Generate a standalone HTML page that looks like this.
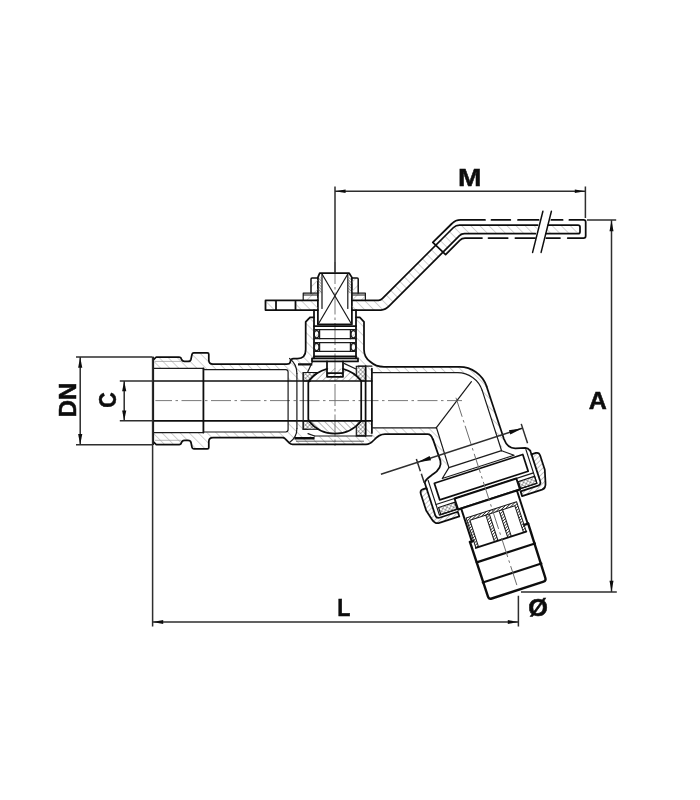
<!DOCTYPE html>
<html><head><meta charset="utf-8"><title>Valve drawing</title>
<style>
html,body{margin:0;padding:0;background:#fff;}
body{width:700px;height:800px;overflow:hidden;font-family:"Liberation Sans",sans-serif;}
svg{display:block;position:absolute;left:0;top:0;}
.o{fill:none;stroke:#111;stroke-width:1.75;stroke-linejoin:round;stroke-linecap:round;}
.ow{fill:#fff;stroke:#111;stroke-width:1.75;stroke-linejoin:round;stroke-linecap:round;}
.m{fill:none;stroke:#1a1a1a;stroke-width:1.2;stroke-linejoin:round;stroke-linecap:round;}
.t{fill:none;stroke:#2a2a2a;stroke-width:0.75;}
.d{fill:none;stroke:#2e2e2e;stroke-width:1.5;}
.cl{fill:none;stroke:#6a6a6a;stroke-width:0.9;stroke-dasharray:20 3.5 2.5 3.5;}
.ar{fill:#111;stroke:none;}
text{font-family:"Liberation Sans",sans-serif;font-weight:bold;fill:#0a0a0a;stroke:#0a0a0a;stroke-width:0.45;}
</style></head><body>
<svg width="700" height="800" viewBox="0 0 700 800">
<defs>
<pattern id="h1" width="6.4" height="6.4" patternUnits="userSpaceOnUse" patternTransform="rotate(45)"><line x1="0" y1="0" x2="0" y2="6.4" stroke="#999" stroke-width="0.9"/></pattern>
<pattern id="h2" width="6.4" height="6.4" patternUnits="userSpaceOnUse" patternTransform="rotate(-45)"><line x1="0" y1="0" x2="0" y2="6.4" stroke="#999" stroke-width="0.9"/></pattern>
<pattern id="hx" width="3" height="3" patternUnits="userSpaceOnUse" patternTransform="rotate(45)"><path d="M0,0V3M0,0H3" stroke="#333" stroke-width="0.8" fill="none"/></pattern>
<pattern id="hd" width="2.3" height="2.3" patternUnits="userSpaceOnUse" patternTransform="rotate(63)"><line x1="0" y1="0" x2="0" y2="2.3" stroke="#1a1a1a" stroke-width="1.45"/></pattern>
<pattern id="hn" width="3.6" height="3.6" patternUnits="userSpaceOnUse" patternTransform="rotate(63)"><line x1="0" y1="0" x2="0" y2="3.6" stroke="#666" stroke-width="0.8"/></pattern>
<pattern id="hb1" width="4.6" height="4.6" patternUnits="userSpaceOnUse" patternTransform="rotate(45)"><line x1="0" y1="0" x2="0" y2="4.6" stroke="#555" stroke-width="0.8"/></pattern>
<pattern id="hb2" width="4.6" height="4.6" patternUnits="userSpaceOnUse" patternTransform="rotate(-45)"><line x1="0" y1="0" x2="0" y2="4.6" stroke="#555" stroke-width="0.8"/></pattern>
<pattern id="hd2" width="2" height="2" patternUnits="userSpaceOnUse" patternTransform="rotate(-45)"><line x1="0" y1="0" x2="0" y2="2" stroke="#333" stroke-width="1"/></pattern>
<filter id="soft" x="0" y="0" width="700" height="800" filterUnits="userSpaceOnUse"><feGaussianBlur stdDeviation="0.32"/></filter>
</defs>
<rect width="700" height="800" fill="#fff"/>
<g filter="url(#soft)">
<!--BODY-->
<g id="body">
<!-- ===== hatch fills (under outlines) ===== -->
<g stroke="none">
<!-- inlet walls -->
<path fill="url(#h2)" d="M153,357.1H181L182.5,361.4H190.5L192,352.9H208.6V364H287V369.7H203.4V368.3H153Z"/>
<path fill="url(#h2)" d="M153,444.6H181L182.5,440.4H190.5L192,448.8H208.6V437.6H287V432H203.4V432.6H153Z"/>
<!-- centre body top-left / bonnet -->
<path fill="url(#h2)" d="M287,364.4Q290.3,364 290.4,361.5Q290.6,358.6 293.5,358.6H297.5Q305.7,358.6 305.7,349.5V321.8L310,317.3H314V358.5H312V362H314L308,372H303V380.6H288V369.7H287Z"/>
<path fill="url(#h2)" d="M356,317.3H359.8L364,321.8V349.5Q364,357 370,361.5Q376,366.9 384,366.9H396V372.7H372V380.6H365.6V366.2H358V358.5H356Z"/>
<!-- bottom -->
<path fill="url(#h2)" d="M283,437.5L290.5,444.4H366Q370,444.4 374,440Q379,434.1 385,434.1H396V427.8H372V421.2H365.6V436H303V421.2H288V432H283Z"/>
<!-- ball segments -->
<path fill="url(#hb1)" d="M309,380.6A33,33 0 0 1 361,380.6Z"/>
<path fill="url(#hb2)" d="M309,421.2A33,33 0 0 0 361,421.2Z"/>
</g>
<!-- seats (crosshatch) -->
<path fill="url(#hx)" stroke="#111" stroke-width="1.1" d="M356.3,366.2H365.6V381H361.2A33,33 0 0 0 356.3,375.7Z"/>
<path fill="url(#hx)" stroke="#111" stroke-width="1.1" d="M356.3,435.8H365.6V420.9H361.2A33,33 0 0 1 356.3,426.1Z"/>
<path fill="url(#hx)" stroke="#111" stroke-width="1.0" d="M303.2,381V372.5H318A33,33 0 0 0 308.6,381Z"/>
<path fill="url(#hx)" stroke="#111" stroke-width="1.0" d="M303.2,420.9V429.3H318A33,33 0 0 1 308.6,420.9Z"/>
<!-- spout wall hatch -->
<path fill="url(#h2)" stroke="none" d="M396,366.9H459.4A28.6,28.6 0 0 1 486.6,386.3L503.95,438.9L501.6,450.7L482.2,390.4A26,26 0 0 0 457.3,372.7H396Z"/>
<path fill="url(#h2)" stroke="none" d="M396,434.1H427.5Q431.3,434.1 432.7,439.3L440.35,460.7L448.9,467.6L436.3,427.8H396Z"/>

<!-- ===== centerlines ===== -->
<path class="cl" d="M155.4,400.6H462" style="stroke-dashoffset:3.4"/>
<path class="cl" d="M335,262V446" style="stroke-dasharray:22 3 2.5 3"/>

<!-- ===== inlet ===== -->
<path class="o" d="M153.1,360.2L156.3,357H179Q181,357 181.4,359Q182,361.4 184.5,361.4H188Q190.5,361.4 191,359.2L192,354.3Q192.3,352.9 193.8,352.9H207.4Q208.8,352.9 208.8,354.3V360Q208.8,364.2 213,364.2H286.5Q290.2,364.2 290.4,361.5Q290.6,358.6 293.5,358.6H297.5Q305.7,358.6 305.7,349.5V321.8L310,317.3H314"/>
<path class="o" d="M153.1,441.5L156.3,444.7H179Q181,444.7 181.4,442.7Q182,440.4 184.5,440.4H188Q190.5,440.4 191,442.5L192,447.4Q192.3,448.8 193.8,448.8H207.4Q208.8,448.8 208.8,447.4V441.7Q208.8,437.5 213,437.5H282.5Q284,437.5 285,438.6L289.5,443.2Q290.8,444.4 292.5,444.4H366Q370,444.4 374,440Q379,434.1 385,434.1H427.5Q431.3,434.1 432.7,439.3"/>
<path class="o" d="M153.2,357.5V444.2" style="stroke-width:1.8"/>
<path class="m" d="M153,368.3H203.4M203.4,432.6H153" style="stroke-width:1.3"/>
<path class="o" d="M203.4,368.3V432.6" style="stroke-width:1.8"/>
<path class="t" d="M155,361.4H181M155,440.3H181" stroke="#999" style="stroke:#9a9a9a"/>
<path class="m" d="M203.4,369.7H285.7Q288.1,369.7 288.1,372V429.6Q288.1,432 285.7,432H203.4"/>
<path class="o" d="M153,381H371.9M153,420.9H371.9" style="stroke-width:1.6"/>

<!-- ===== body internals left of ball ===== -->
<path class="m" d="M296.9,373.5V428.5M303.2,372.5V429.5"/>
<path class="m" d="M296.9,373.5Q296.9,364 289.5,358.5M296.9,428.5Q296.9,437.5 289.5,442.5M303.2,372.5H308M303.2,429.3H308"/>
<path class="m" d="M314.6,436H365.6"/>
<path d="M298,364.4H312.3M294.5,438.3H314.6" fill="none" stroke="#111" stroke-width="2.4"/>
<path class="m" d="M312.3,362L307.5,372.5M314.6,436L308,433.6"/>
<path class="t" d="M296,441.2H364"/>
<!-- ===== ball ===== -->
<path class="o" d="M308.3,383Q308.3,381 310,381M308.3,419Q308.3,420.9 310,420.9M308.3,383V419M361.2,381V420.9"/>
<path class="o" d="M309,380.8A33,33 0 0 1 327,368.8M343,368.8A33,33 0 0 1 361,380.8M309,421A33,33 0 0 0 361,421"/>
<!-- right of ball -->
<path class="o" d="M365.6,366.2V435.8M371.9,368.5V433"/>
<path class="m" d="M358,366.2H371.9M356.3,435.8H371.9"/>

<!-- ===== bonnet right & outlet top ===== -->
<path class="o" d="M356,317.3H359.8L364,321.8V349.5Q364,357 370,361.5Q376,366.9 384,366.9H459.4A28.6,28.6 0 0 1 486.6,386.3"/>
<path class="m" d="M371.9,372.7H457.3A26,26 0 0 1 482.2,390.4"/>
<path class="m" d="M371.9,427.8H436.2"/>
<path class="m" d="M471.4,381.7L436.2,427.8"/>

<!-- ===== stem & bonnet inside ===== -->
<path class="o" d="M314,310V358.3M356,310V358.3"/>
<path class="o" d="M314,326.2H356"/>
<path class="m" d="M314,329.6H356M314,338.7H356M314,342.7H356M314,351.3H356"/>
<path class="o" d="M314,356.4H356"/>
<path class="o" d="M312,358.3H358V361.4H312Z"/>
<ellipse class="m" cx="316.6" cy="334.2" rx="2.3" ry="3.6" style="fill:url(#h1)"/>
<ellipse class="m" cx="353.4" cy="334.2" rx="2.3" ry="3.6" style="fill:url(#h1)"/>
<ellipse class="m" cx="316.6" cy="347" rx="2.3" ry="3.6" style="fill:url(#h1)"/>
<ellipse class="m" cx="353.4" cy="347" rx="2.3" ry="3.6" style="fill:url(#h1)"/>
<path class="m" d="M319.6,329.6V338.7M350.4,329.6V338.7M319.6,342.7V351.3M350.4,342.7V351.3"/>
<!-- tang -->
<path class="o" d="M327,361.4V376.8H343V361.4M327,373.1H343"/>
<!-- chamber top -->
<path class="m" d="M344.5,363.6L356,369"/>

<!-- ===== stem top with X ===== -->
<path fill="url(#hd2)" stroke="none" d="M317.9,277.4H321.6V293.2H317.9ZM348.2,277.4H351.9V293.2H348.2Z"/>
<path class="o" d="M317.9,324.3V277.4L319.7,273.2H349.2L351.9,277.4V324.3Z"/>
<path class="m" d="M322,274V308.5M347.8,274V308.5"/>
<path class="m" d="M322.3,274.5L351.6,324.3M347.5,274.5L318.2,324.3"/>
</g>

<!--HANDLE-->
<g id="handle">
<!-- nut upper blocks -->
<path fill="url(#h1)" stroke="none" d="M311,278H317.9V293.2H311ZM351.9,278H358V293.2H351.9Z"/>
<path class="o" d="M317.9,278H312Q311,278 311,279V293.2M351.9,278H357.2Q358.2,278 358.2,279V293.2" style="stroke-width:1.5"/>
<!-- washer -->
<path fill="url(#h1)" stroke="none" d="M303.2,293.2H317.9V300.3H303.2ZM351.9,293.2H365.4V300.3H351.9Z"/>
<path class="m" d="M317.9,293.2H303.2V300.3M351.9,293.2H365.4V300.3M303.2,295H317.9M351.9,295H365.4"/>
<!-- left plate -->
<path fill="url(#h2)" stroke="none" d="M295.5,300.3H317.9V310H295.5ZM265.5,300.3H276.5V310H265.5Z"/>
<path class="o" d="M317.9,300.3H265.5V310H317.9M276,300.3V310M295.5,300.3V310"/>
<!-- right plate + diagonal + horizontal (metal, hatched) -->
<path id="hm" fill="url(#h2)" stroke="none" d="M351.9,300.3H378.5Q380.7,300.3 382.3,298.7L453.5,227.5Q456,225 459.5,225H537.6L535.3,233.7H464.5Q461.5,233.7 459.5,235.7L389.5,305.7Q385.5,310 381,310H351.9Z"/>
<path fill="url(#h2)" stroke="none" d="M548.1,225H578Q580,225 580,227V231.7Q580,233.7 578,233.7H545.9Z"/>
<path class="o" d="M351.9,300.3H378.5Q380.7,300.3 382.3,298.7L453.5,227.5Q456,225 459.5,225H537.6M535.3,233.7H464.5Q461.5,233.7 459.5,235.7L389.5,305.7Q385.5,310 381,310H351.9"/>
<path class="o" d="M548.1,225H578Q580,225 580,227V231.7Q580,233.7 578,233.7H545.9"/>
<!-- sleeve -->
<path class="o" d="M432.8,242.3L445.6,254.6M432.8,242.3L452,223.5Q455.5,219.9 460.5,219.9H485M445.6,254.6L460,240.2Q462,238.1 465,238.1H482"/>
<path class="o" d="M491.5,219.9H510.3M518,219.9H538.6M551.4,219.9H562.6M569.4,219.9H583.5Q585.7,219.9 585.7,222V236Q585.7,238.1 583.5,238.1H567.7M560,238.1H546.3M535.1,238.1H515.4M507.7,238.1H488.5"/>
<!-- break lines -->
<path class="o" d="M542.9,211.3L532.6,252.4M551.4,211.3L541.1,252.4" style="stroke-width:1.5"/>
</g>

<!--SPOUT-->
<g id="spout" transform="translate(456.9,400.6) rotate(-18)">
<!-- neck -->
<path class="o" d="M32.6,-4.4L32.9,51C33.2,58 36,62 41,63.5L50.5,66Q53,66.8 54.3,70.3"/>
<path class="o" d="M-34.7,29.2L-34.3,52C-34.5,58 -40,61 -45.6,62.7S-54,65 -56,68"/>
<path class="m" d="M27.2,-1.9L27,61.5M-27.8,19L-28.3,61.3"/>
<path class="m" d="M-28.3,61.3H27M-28.3,61.3L-38,69.6H37.5L27,61.5"/>
<!-- bell wall -->
<path class="o" d="M-56,68V75M54.3,70.3V75"/>
<path class="m" d="M-52,67V103.5H-33.5M50.5,68V103.5H33.5"/>
<!-- cavity -->
<rect class="o" x="-47" y="71.6" width="93" height="17.6"/>
<path class="m" d="M-52,92.4H50.5"/>
<!-- gaskets -->
<rect x="-50.5" y="96" width="17" height="7.3" fill="url(#hx)" stroke="#111" stroke-width="1.1"/>
<rect x="33.5" y="96" width="17" height="7.3" fill="url(#hx)" stroke="#111" stroke-width="1.1"/>
<!-- nut -->
<path class="o" style="fill:url(#hn)" d="M-56,73.8H-60Q-63.2,74 -63.2,78V95L-60.5,105Q-59,110.8 -54.5,110.9H-33.5V106H-52Q-56,106 -56,102Z"/>
<path class="o" style="fill:url(#hn)" d="M54.3,74.2H59Q62.2,74.4 62.2,78V93L59,105Q57.8,110.8 53.5,111H32.5V106H51Q54.3,106 54.3,102Z"/>
<!-- tail flange -->
<path class="ow" d="M-32.5,92.4H32.5V104H-32.5Z" style="stroke-width:1.9"/>
<!-- tail body -->
<path class="ow" d="M-29.3,104V146H29.3V104Z" stroke="none" style="stroke:none"/>
<path class="o" d="M-29.3,104V139M29.3,104V139M-32.5,104H32.5" style="stroke-width:2"/>
<path fill="url(#hd)" stroke="none" d="M-27.5,114.6H25.5V117.8H-27.5ZM-27.5,115H-24.6L-24.6,146H-27.5ZM22.6,115H25.5V146H22.6ZM-7.9,118H-4.2V145.5H-7.9ZM6.1,118H9.8V145.5H6.1Z"/>
<path class="m" d="M-27.5,114.6H25.5M-24.6,117.8H22.6M-27.5,114.6V146M-24.6,117.8V146M25.5,114.6V146M22.6,117.8V146M-7.9,117.8V146M-4.2,117.8V146M6.1,117.8V146M9.8,117.8V146" style="stroke-width:1"/>
<!-- sleeve -->
<path class="ow" style="stroke:none" d="M-31,146H29.8V196Q29.8,199 26.8,199H-28Q-31,199 -31,196Z"/>
<path class="o" d="M-31.3,138.5L-31,196Q-31,199 -28,199H26.5Q29.3,199 29.3,196L29.8,139" style="stroke-width:2.4"/>
<path class="o" d="M-31.3,138.5H-27.5M25.5,139H29.8M-31.2,160H30M-31.6,181H30" style="stroke-width:2.2"/>
<path class="o" d="M-27.5,146H25.5" style="stroke-width:1.9"/>
<!-- centerline -->
<path class="cl" d="M0,-3V196"/>
<!-- Ø dimension -->
<path class="d" d="M-95,46.5H53.5M-56.6,43V56M-56.4,58.5V68M54,42V62.5"/>
<path class="ar" d="M-56.5,46.5l13.5,-2.3v4.6zM53.8,46.5l-13.5,-2.3v4.6z"/>
</g>

<!--DIMS-->
<g id="dims">
<!-- DN -->
<path class="d" d="M76,357H152.5M76,444.7H152.5M80.2,357.3V444.4"/>
<path class="ar" d="M80.2,357.2l-2.1,10.5h4.2zM80.2,444.5l-2.1,-10.5h4.2z"/>
<!-- C -->
<path class="d" d="M119.8,381H153M119.8,420.8H153M124.2,381.3V420.5"/>
<path class="ar" d="M124.2,381.2l-2.1,10h4.2zM124.2,420.6l-2.1,-10h4.2z"/>
<!-- L -->
<path class="d" d="M152.6,357V626.6M518.4,595.7V626.6M152.6,622H518.4"/>
<path class="ar" d="M152.7,622l10.5,-2v4zM518.3,622l-10.5,-2v4z"/>
<!-- M -->
<path class="d" d="M335,186.5V273M585.4,186.5V218M335,191.2H585.4"/>
<path class="ar" d="M335.1,191.2l10.5,-1.7v3.4zM585.3,191.2l-10.5,-1.7v3.4z"/>
<!-- A -->
<path class="d" d="M587,220H616.2M521,591.9H616.8M611.5,220.4V591.5"/>
<path class="ar" d="M611.5,220.3l-2,11h4zM611.5,591.7l-2,-11h4z"/>
<text transform="translate(75.9,400) rotate(-90)" font-size="23.2" text-anchor="middle" textLength="34.5" lengthAdjust="spacingAndGlyphs">DN</text>
<text transform="translate(116.4,400) rotate(-90) scale(0.9,1)" font-size="23.8" text-anchor="middle">C</text>
<text transform="translate(343.8,616.3) scale(0.88,1)" font-size="24.5" text-anchor="middle">L</text>
<text transform="translate(469.8,186) scale(1.2,1)" font-size="23.5" text-anchor="middle">M</text>
<text transform="translate(597.9,408.9) scale(1.07,1)" font-size="23.4" text-anchor="middle">A</text>
<text transform="translate(538.2,616.1) scale(1.08,1)" font-size="23.4" text-anchor="middle">Ø</text>
</g>

</g>
</svg>
</body></html>
